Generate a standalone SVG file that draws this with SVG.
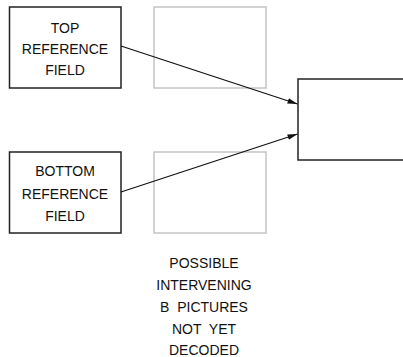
<svg xmlns="http://www.w3.org/2000/svg" width="403" height="357" viewBox="0 0 403 357">
<style>
.box{fill:#fff;stroke:#222;stroke-width:1.5}
.gray{fill:none;stroke:#c4c4c4;stroke-width:1.5}
.t{font-family:"Liberation Sans",Arial,sans-serif;font-size:14px;fill:#111;text-anchor:middle;white-space:pre}
.c{stroke:#111;stroke-width:1.3;fill:none}
</style>
<defs>
<marker id="ah" viewBox="0 0 10 10" refX="10" refY="5" markerWidth="10" markerHeight="8" markerUnits="userSpaceOnUse" orient="auto" preserveAspectRatio="none">
<path d="M0,1.5 L10,5 L0,8.5 Z" fill="#111"/>
</marker>
</defs>
<g id="top-ref">
<rect class="box" x="9.5" y="7" width="111.5" height="81"/>
<text class="t" x="65" y="32.5">TOP</text>
<text class="t" x="65" y="53.5">REFERENCE</text>
<text class="t" x="65" y="75">FIELD</text>
</g>
<g id="bottom-ref">
<rect class="box" x="9.5" y="152" width="111.5" height="81"/>
<text class="t" x="65" y="176">BOTTOM</text>
<text class="t" x="65" y="198.5">REFERENCE</text>
<text class="t" x="65" y="221">FIELD</text>
</g>
<g id="b-top">
<rect class="gray" x="154" y="7" width="112" height="81"/>
</g>
<g id="b-bottom">
<rect class="gray" x="154" y="152" width="112" height="81"/>
</g>
<g id="target">
<rect class="box" x="298" y="79" width="120" height="81"/>
</g>
<g id="label">
<text class="t" x="204" y="268">POSSIBLE</text>
<text class="t" x="204" y="290">INTERVENING</text>
<text class="t" x="204" y="312">B  PICTURES</text>
<text class="t" x="204" y="333.5">NOT  YET</text>
<text class="t" x="204" y="355">DECODED</text>
</g>
<g id="connectors">
<line class="c" x1="121" y1="46" x2="297.5" y2="104" marker-end="url(#ah)"/>
<line class="c" x1="121" y1="192" x2="297.5" y2="134" marker-end="url(#ah)"/>
</g>
</svg>
